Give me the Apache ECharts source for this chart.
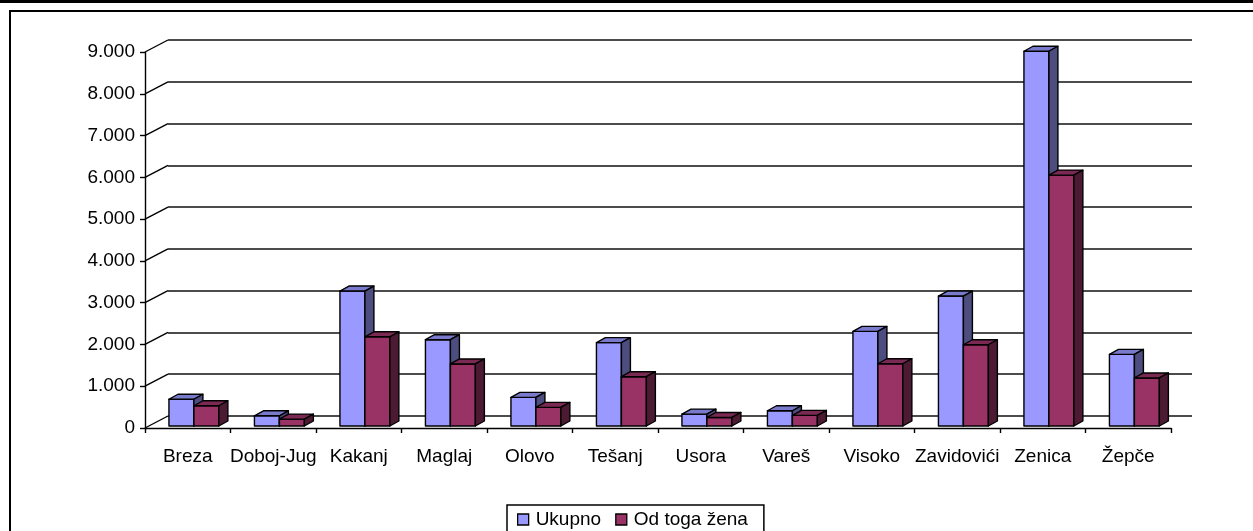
<!DOCTYPE html>
<html>
<head>
<meta charset="utf-8">
<script src="https://cdn.jsdelivr.net/npm/echarts@6/dist/echarts.min.js"></script>
<style>
  html, body { margin: 0; padding: 0; background: #fff; }
  #chart { width: 1253px; height: 531px; }
</style>
</head>
<body>
<div id="chart"></div>
<script>
const categories = ['Breza', 'Doboj-Jug', 'Kakanj', 'Maglaj', 'Olovo', 'Tešanj', 'Usora', 'Vareš', 'Visoko', 'Zavidovići', 'Zenica', 'Žepče']
const ukupno = [640, 245, 3230, 2065, 685, 1995, 285, 365, 2265, 3110, 8970, 1715]
const odTogaZena = [485, 165, 2135, 1485, 445, 1180, 205, 255, 1490, 1945, 6005, 1150]
const yTicks = [0, 1000, 2000, 3000, 4000, 5000, 6000, 7000, 8000, 9000]

const FONT = 'Liberation Sans, Arial, sans-serif'
// depth of the back wall and of the bars (px)
const WALL_DX = 23, WALL_DY = -12
const BAR_DX = 9, BAR_DY = -5

function fmt(v) {
  return v >= 1000 ? Math.floor(v / 1000) + '.' + String(v % 1000).padStart(3, '0') : String(v)
}

function barRenderer(offset, front, top, side) {
  return function (params, api) {
    const i = api.value(0), v = api.value(1)
    const base = api.coord([i, 0])
    const head = api.coord([i, v])
    const band = api.size([1, 0])[0]
    const w = band * 0.292
    const x0 = base[0] + band * offset
    const x1 = x0 + w
    const yb = base[1] - 2
    const yt = head[1] - 2
    const line = { stroke: '#000', lineWidth: 1.4, lineJoin: 'round' }
    return {
      type: 'group',
      children: [
        { type: 'polygon', shape: { points: [[x0, yt], [x1, yt], [x1, yb], [x0, yb]] }, style: Object.assign({ fill: front }, line) },
        { type: 'polygon', shape: { points: [[x0, yt], [x0 + BAR_DX, yt + BAR_DY], [x1 + BAR_DX, yt + BAR_DY], [x1, yt]] }, style: Object.assign({ fill: top }, line) },
        { type: 'polygon', shape: { points: [[x1, yt], [x1 + BAR_DX, yt + BAR_DY], [x1 + BAR_DX, yb + BAR_DY], [x1, yb]] }, style: Object.assign({ fill: side }, line) }
      ]
    }
  }
}

const chart = echarts.init(document.getElementById('chart'))
chart.setOption({
  animation: false,
  backgroundColor: '#fff',
  textStyle: { fontFamily: FONT },
  graphic: [
    { type: 'rect', shape: { x: 0, y: 0, width: 1253, height: 3 }, style: { fill: '#000' } },
    { type: 'rect', shape: { x: 10, y: 11, width: 1260, height: 540 }, style: { fill: null, stroke: '#000', lineWidth: 2 } }
  ],
  legend: {
    left: 507,
    top: 505,
    padding: [5, 16, 8, 10],
    borderColor: '#000',
    borderWidth: 1.5,
    itemWidth: 11,
    itemHeight: 11,
    itemGap: 14,
    textStyle: { fontSize: 19, color: '#000', fontFamily: FONT, padding: [0, 0, 0, 2] },
    data: [
      { name: 'Ukupno', icon: 'rect', itemStyle: { color: '#9999FF', borderColor: '#000', borderWidth: 1.3 } },
      { name: 'Od toga žena', icon: 'rect', itemStyle: { color: '#993366', borderColor: '#000', borderWidth: 1.3 } }
    ]
  },
  grid: [
    { left: 145, top: 52, width: 1026, height: 376 },
    { left: 145 + WALL_DX, top: 52 + WALL_DY, width: 1024, height: 376 }
  ],
  xAxis: [
    {
      type: 'category',
      gridIndex: 0,
      data: categories,
      axisLine: { lineStyle: { color: '#000', width: 1.4 } },
      axisTick: { show: true, length: 5, lineStyle: { color: '#000', width: 1.4 } },
      axisLabel: { interval: 0, color: '#000', fontSize: 19, margin: 19, fontFamily: FONT }
    },
    { type: 'category', gridIndex: 1, data: categories, show: false }
  ],
  yAxis: [
    {
      type: 'value',
      gridIndex: 0,
      min: 0,
      max: 9000,
      interval: 1000,
      axisLine: { show: true, lineStyle: { color: '#000', width: 1.4 } },
      axisTick: { show: true, length: 5, lineStyle: { color: '#000', width: 1.4 } },
      splitLine: { show: false },
      axisLabel: { color: '#000', fontSize: 19, margin: 10, fontFamily: FONT, formatter: fmt }
    },
    {
      type: 'value',
      gridIndex: 1,
      min: 0,
      max: 9000,
      interval: 1000,
      axisLine: { show: false },
      axisTick: { show: false },
      axisLabel: { show: false },
      splitLine: { show: true, lineStyle: { color: '#111', width: 1.6 } }
    }
  ],
  series: [
    {
      // slanted lines from the axis ticks to the back wall
      type: 'custom',
      xAxisIndex: 0,
      yAxisIndex: 0,
      silent: true,
      data: yTicks.map(v => [0, v]),
      renderItem(params, api) {
        const p = api.coord([0, api.value(1)])
        const x0 = p[0] - api.size([1, 0])[0] / 2
        return {
          type: 'line',
          shape: { x1: x0, y1: p[1], x2: x0 + WALL_DX, y2: p[1] + WALL_DY },
          style: { stroke: '#000', lineWidth: 1.4 }
        }
      }
    },
    {
      name: 'Ukupno',
      type: 'custom',
      xAxisIndex: 0,
      yAxisIndex: 0,
      itemStyle: { color: '#9999FF' },
      data: ukupno.map((v, i) => [i, v]),
      renderItem: barRenderer(-0.22, '#9999FF', '#7A7ACC', '#4D4D80')
    },
    {
      name: 'Od toga žena',
      type: 'custom',
      xAxisIndex: 0,
      yAxisIndex: 0,
      itemStyle: { color: '#993366' },
      data: odTogaZena.map((v, i) => [i, v]),
      renderItem: barRenderer(0.072, '#993366', '#7A2952', '#4D1A33')
    }
  ]
})
</script>
</body>
</html>
